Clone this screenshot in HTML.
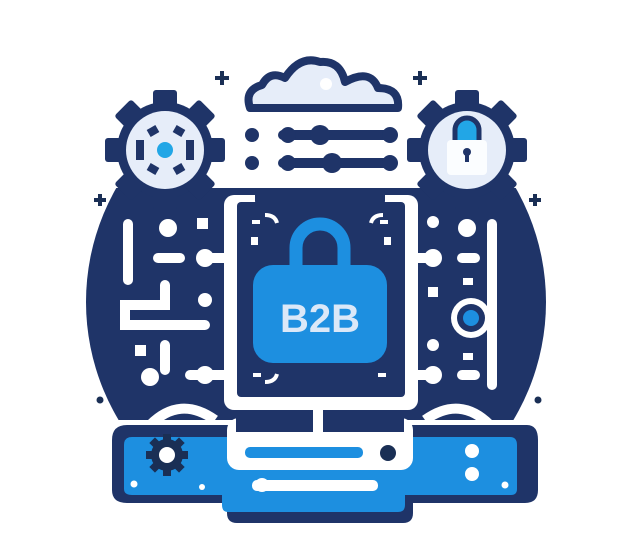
<!DOCTYPE html>
<html><head><style>html,body{margin:0;padding:0;background:#fff;}svg{display:block}</style></head>
<body>
<svg width="618" height="542" viewBox="0 0 618 542" xmlns="http://www.w3.org/2000/svg">
<defs>
<clipPath id="cl"><rect x="0" y="188" width="618" height="232"/></clipPath>
<g id="gear">
<circle r="48" fill="#1f3468"/>
<g fill="#1f3468">
<rect x="-12" y="-60" width="24" height="120" rx="3"/>
<rect x="-12" y="-60" width="24" height="120" rx="3" transform="rotate(45)"/>
<rect x="-12" y="-60" width="24" height="120" rx="3" transform="rotate(90)"/>
<rect x="-12" y="-60" width="24" height="120" rx="3" transform="rotate(135)"/>
</g>
<circle r="39" fill="#e6edf9"/>
</g>
</defs>
<!-- big blob -->
<circle cx="316" cy="302" r="230" fill="#1f3468" clip-path="url(#cl)"/>
<!-- left circuit -->
<g stroke="#fff" stroke-width="10" stroke-linecap="round" fill="none">
<line x1="128" y1="224" x2="128" y2="280"/>
<path d="M165 285 V305 H125 V325 H205"/>
<line x1="165" y1="345" x2="165" y2="370"/>
<line x1="158" y1="258" x2="180" y2="258"/>
<line x1="205" y1="258" x2="225" y2="258"/>
<line x1="190" y1="375" x2="225" y2="375"/>
<line x1="492" y1="224" x2="492" y2="385"/>
<line x1="462" y1="258" x2="475" y2="258"/>
<line x1="462" y1="375" x2="475" y2="375"/>
<line x1="412" y1="258" x2="428" y2="258"/>
<line x1="412" y1="375" x2="428" y2="375"/>
</g>
<g fill="#fff">
<circle cx="168" cy="228" r="9"/><rect x="197" y="218" width="11" height="11"/>
<circle cx="205" cy="300" r="7"/><rect x="135" y="345" width="11" height="11"/>
<circle cx="150" cy="377" r="9"/><circle cx="205" cy="258" r="9"/><circle cx="205" cy="375" r="9"/>
<circle cx="433" cy="222" r="6"/><circle cx="467" cy="228" r="9"/>
<rect x="428" y="287" width="10" height="10"/><rect x="463" y="278" width="10" height="7"/>
<circle cx="433" cy="345" r="6"/><rect x="463" y="353" width="10" height="7"/>
<circle cx="433" cy="258" r="9"/><circle cx="433" cy="375" r="9"/>
<circle cx="471" cy="318" r="20"/>
</g>
<circle cx="471" cy="318" r="14" fill="#1f3468"/>
<circle cx="471" cy="318" r="8" fill="#1d8fe0"/>
<!-- gears -->
<use href="#gear" x="165" y="150"/>
<use href="#gear" x="467" y="150"/>
<g fill="#1f3468">
<rect x="148" y="127" width="10" height="8" transform="rotate(-30 153 131)"/>
<rect x="174" y="127" width="10" height="8" transform="rotate(30 179 131)"/>
<rect x="148" y="165" width="10" height="8" transform="rotate(30 153 169)"/>
<rect x="174" y="165" width="10" height="8" transform="rotate(-30 179 169)"/>
<rect x="136" y="140" width="8" height="20"/><rect x="186" y="140" width="8" height="20"/>
</g>
<circle cx="165" cy="150" r="8" fill="#22a6e6"/>
<rect x="447" y="140" width="40" height="35" rx="4" fill="#fbfdff"/>
<path d="M455 140 V130 a12 12 0 0 1 24 0 V140" fill="#22a6e6" stroke="#1f3468" stroke-width="5"/>
<circle cx="467" cy="152" r="4" fill="#1f3468"/><rect x="465" y="152" width="4" height="10" fill="#1f3468"/>
<!-- cloud -->
<path d="M250 108 Q244 90 262 85 Q270 70 285 78 Q300 55 320 62 Q340 60 345 82 Q370 68 378 88 Q400 88 398 108 Z" fill="#e6edf9" stroke="#1f3468" stroke-width="8" stroke-linejoin="round"/>
<circle cx="326" cy="84" r="6" fill="#fff"/>
<!-- sliders -->
<g fill="#1f3468">
<circle cx="252" cy="135" r="7"/><circle cx="252" cy="163" r="7"/>
<rect x="278" y="130" width="118" height="10" rx="5"/><rect x="278" y="158" width="118" height="10" rx="5"/>
<circle cx="320" cy="135" r="10"/><circle cx="332" cy="163" r="10"/>
<circle cx="288" cy="135" r="8"/><circle cx="390" cy="135" r="8"/>
<circle cx="288" cy="163" r="8"/><circle cx="390" cy="163" r="8"/>
</g>
<!-- pluses -->
<g stroke="#1a2f55" stroke-width="4">
<path d="M215 78h14M222 71v14"/><path d="M413 78h14M420 71v14"/>
<path d="M94 200h12M100 194v12"/><path d="M529 200h12M535 194v12"/>
</g>
<circle cx="100" cy="400" r="3.5" fill="#1a2f55"/><circle cx="538" cy="400" r="3.5" fill="#1a2f55"/>
<!-- monitor -->
<rect x="224" y="195" width="194" height="215" rx="10" fill="#fff"/>
<rect x="237" y="202" width="168" height="195" rx="4" fill="#1f3468"/>
<rect x="255" y="190" width="130" height="14" rx="3" fill="#1f3468"/>
<g stroke="#fff" stroke-width="4" fill="none">
<path d="M252 222 h8 M265 215 q10 0 12 8"/><path d="M383 215 q-10 0 -12 8 M380 222 h8"/>
<path d="M253 375 h8 M265 382 q10 0 12 -8"/><path d="M378 375 h8"/>
</g>
<rect x="251" y="237" width="7" height="8" fill="#fff"/><rect x="384" y="237" width="7" height="8" fill="#fff"/>
<path d="M296 266 V248 a24 24 0 0 1 48 0 V266" fill="none" stroke="#1d8fe0" stroke-width="13"/>
<rect x="253" y="265" width="134" height="98" rx="20" fill="#1d8fe0"/>
<text x="320" y="332" text-anchor="middle" font-family="Liberation Sans, sans-serif" font-weight="bold" font-size="40" fill="#dbe8f8">B2B</text>
<!-- base -->
<path d="M150 425 Q180 395 215 420 M425 420 Q460 395 490 425" stroke="#fff" stroke-width="10" fill="none"/>
<path d="M112 440 q0-15 15-15 h400 q11 0 11 15 v50 q0 13-13 13 h-112 v10 q0 10-10 10 h-166 q-10 0-10-10 v-10 h-100 q-15 0-15-13z" fill="#1f3468"/>
<path d="M124 445 q0-8 8-8 h378 q7 0 7 8 v44 q0 6-6 6 h-106 v10 q0 7-7 7 h-170 q-6 0-6-7 v-10 h-90 q-8 0-8-6z" fill="#1d8fe0"/>
<rect x="227" y="418" width="186" height="52" rx="12" fill="#fff"/>
<rect x="236" y="410" width="168" height="22" fill="#1f3468"/>
<rect x="313" y="405" width="10" height="30" fill="#fff"/>
<rect x="245" y="447" width="118" height="11" rx="5" fill="#1d8fe0"/>
<circle cx="388" cy="453" r="8" fill="#1a2f55"/>
<rect x="252" y="480" width="126" height="11" rx="5" fill="#fff"/>
<circle cx="262" cy="485" r="7" fill="#fff"/>
<circle cx="472" cy="451" r="7" fill="#fff"/><circle cx="472" cy="474" r="7" fill="#fff"/>
<circle cx="134" cy="484" r="3.5" fill="#fff"/><circle cx="202" cy="487" r="3" fill="#fff"/><circle cx="505" cy="485" r="3.5" fill="#fff"/>
<g transform="translate(167,455)" fill="#1a2f55">
<circle r="16"/>
<rect x="-4" y="-21" width="8" height="42"/><rect x="-4" y="-21" width="8" height="42" transform="rotate(45)"/>
<rect x="-4" y="-21" width="8" height="42" transform="rotate(90)"/><rect x="-4" y="-21" width="8" height="42" transform="rotate(135)"/>
<circle r="8" fill="#fff"/>
</g>
</svg>
</body></html>
